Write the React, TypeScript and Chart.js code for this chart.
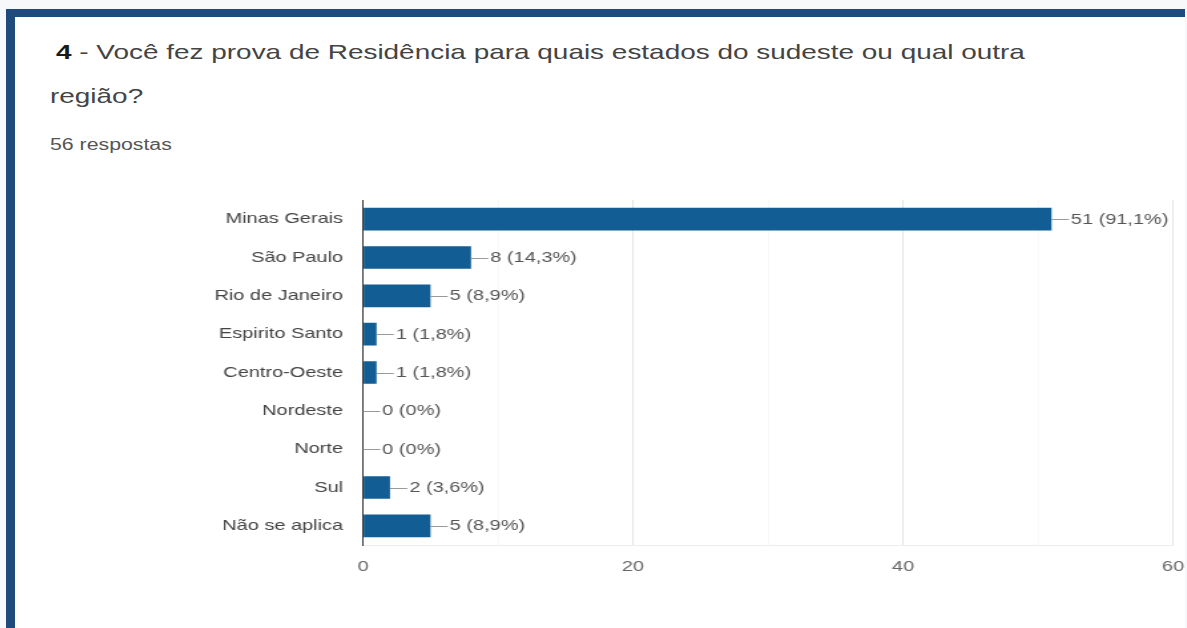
import React, { useEffect, useRef } from "react";
import { Chart, registerables } from "chart.js";

Chart.register(...registerables);

const categories = [
  "Minas Gerais",
  "São Paulo",
  "Rio de Janeiro",
  "Espirito Santo",
  "Centro-Oeste",
  "Nordeste",
  "Norte",
  "Sul",
  "Não se aplica",
];
const counts = [51, 8, 5, 1, 1, 0, 0, 2, 5];
const percentLabels = ["91,1", "14,3", "8,9", "1,8", "1,8", "0", "0", "3,6", "8,9"];
const xMajorTicks = [0, 20, 40, 60];

const titleNumber = "4";
const titleLine1 = " - Você fez prova de Residência para quais estados do sudeste ou qual outra";
const titleLine2 = "região?";
const responsesText = "56 respostas";

const FONT = '"Liberation Sans", Arial, sans-serif';
const SX = 1.33;

const valueLabelPlugin = {
  id: "valueLabels",
  afterDatasetsDraw(chart: any) {
    const ctx = chart.ctx;
    const meta = chart.getDatasetMeta(0);
    ctx.save();
    meta.data.forEach((bar: any, i: number) => {
      const x = bar.x;
      const y = bar.y;
      const ly = Math.round(y) + 0.5;
      ctx.strokeStyle = "#9a9a9a";
      ctx.lineWidth = 1;
      ctx.beginPath();
      ctx.moveTo(x, ly);
      ctx.lineTo(x + 13, ly);
      ctx.stroke();
      ctx.fillStyle = "#555";
      ctx.font = `15px ${FONT}`;
      ctx.textBaseline = "middle";
      ctx.textAlign = "left";
      ctx.fillText(`${counts[i]} (${percentLabels[i]}%)`, x + 14.5, y + 0.5);
    });
    ctx.restore();
  },
};

function BarChart() {
  const ref = useRef<HTMLCanvasElement | null>(null);
  useEffect(() => {
    if (!ref.current) return;
    const chart = new Chart(ref.current, {
      type: "bar",
      data: {
        labels: categories,
        datasets: [
          {
            data: counts,
            backgroundColor: "#115d94",
            borderWidth: 0,
            barPercentage: 0.59,
            categoryPercentage: 1,
          },
        ],
      },
      options: {
        indexAxis: "y",
        animation: false,
        responsive: true,
        maintainAspectRatio: false,
        layout: { padding: { top: 9, right: 11, bottom: 0, left: 0 } },
        plugins: {
          legend: { display: false },
          tooltip: { enabled: false },
          title: { display: false },
        },
        scales: {
          x: {
            min: 0,
            max: 60,
            ticks: {
              stepSize: 10,
              autoSkip: false,
              maxRotation: 0,
              padding: 13,
              color: "#666",
              font: { size: 15, family: FONT },
              callback: (v: any) => (xMajorTicks.includes(Number(v)) ? String(v) : ""),
            },
            grid: {
              drawTicks: false,
              color: (c: any) =>
                c.tick && c.tick.value === 0
                  ? "#333"
                  : c.tick && xMajorTicks.includes(c.tick.value)
                  ? "#e4e4e4"
                  : "#f8f8f8",
            },
            border: { display: true, color: "#ededed" },
            afterFit: (scale: any) => {
              scale.height = 55;
            },
          },
          y: {
            grid: { display: false, drawTicks: false },
            border: { display: true, color: "#333", width: 1 },
            ticks: {
              padding: 15,
              color: "#444",
              font: { size: 15, family: FONT },
              autoSkip: false,
            },
            afterFit: (scale: any) => {
              scale.width = 137.6;
            },
          },
        },
      },
      plugins: [valueLabelPlugin],
    } as any);
    return () => chart.destroy();
  }, []);
  return <canvas ref={ref} />;
}

export default function App() {
  const stretch: React.CSSProperties = {
    position: "absolute",
    whiteSpace: "nowrap",
    transform: `scaleX(${SX})`,
    transformOrigin: "0 0",
    fontFamily: FONT,
  };
  return (
    <div
      style={{
        position: "fixed",
        left: 0,
        top: 0,
        width: 1187,
        height: 628,
        background: "#f6f8fa",
        overflow: "hidden",
      }}
    >
      <div
        style={{
          position: "absolute",
          left: 6,
          top: 9,
          width: 1179,
          height: 619,
          background: "#ffffff",
          borderTop: "8px solid #1f4a7e",
          borderLeft: "9px solid #1f4a7e",
          boxSizing: "border-box",
        }}
      />
      <div style={{ ...stretch, left: 56, top: 41, fontSize: 21, lineHeight: "21px" }}>
        <span style={{ color: "#1a1a1a", fontWeight: "bold" }}>{titleNumber}</span>
        <span style={{ color: "#444" }}>{titleLine1}</span>
      </div>
      <div style={{ ...stretch, left: 50, top: 85, fontSize: 21, lineHeight: "21px", color: "#444" }}>
        {titleLine2}
      </div>
      <div style={{ ...stretch, left: 50, top: 136.5, fontSize: 16, lineHeight: "16px", color: "#555" }}>
        {responsesText}
      </div>
      <div
        style={{
          position: "absolute",
          left: 180,
          top: 176,
          width: 768,
          height: 424,
          transform: `scaleX(${SX})`,
          transformOrigin: "0 0",
        }}
      >
        <BarChart />
      </div>
    </div>
  );
}
